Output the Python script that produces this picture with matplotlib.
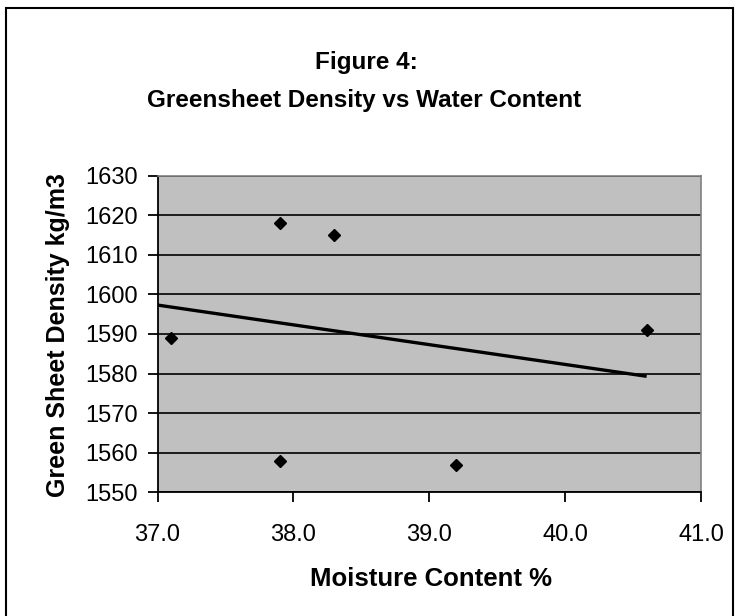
import matplotlib
matplotlib.use("Agg")
import matplotlib.pyplot as plt
from matplotlib.patches import Rectangle

# Data
moisture = [37.1, 37.9, 38.3, 37.9, 39.2, 40.6]
density = [1589, 1618, 1615, 1558, 1557, 1591]
trend_x = [37.0, 40.6]
trend_y = [1597.3, 1579.3]
x_ticks = [37.0, 38.0, 39.0, 40.0, 41.0]
y_ticks = [1550, 1560, 1570, 1580, 1590, 1600, 1610, 1620, 1630]

plt.rcParams['font.family'] = ['Liberation Sans', 'DejaVu Sans']

W, H = 737, 616
fig = plt.figure(figsize=(W / 100, H / 100), dpi=100)
fig.patch.set_facecolor('white')

# figure border
fig.add_artist(Rectangle((6 / W, -0.02), (733 - 6) / W, 1 - 8 / H + 0.02,
                         transform=fig.transFigure, fill=False,
                         edgecolor='black', linewidth=1.5))

left, right, top, bottom = 157.5, 701, 175.6, 492.3
ax = fig.add_axes([left / W, 1 - bottom / H, (right - left) / W, (bottom - top) / H])
ax.set_facecolor('#C0C0C0')

ax.set_xlim(37.0, 41.0)
ax.set_ylim(1550, 1630)
ax.set_xticks(x_ticks)
ax.set_xticklabels([f"{v:.1f}" for v in x_ticks])
ax.set_yticks(y_ticks)
ax.set_yticklabels([str(v) for v in y_ticks])

ax.yaxis.grid(True, color='black', linewidth=1.2)
ax.set_axisbelow(True)

ax.plot(trend_x, trend_y, color='black', linewidth=2.4, solid_capstyle='butt', zorder=3)
ax.plot(moisture, density, linestyle='none', marker='D', markersize=6.6,
        color='black', zorder=4)

for s in ['top', 'right']:
    ax.spines[s].set_color('#808080')
    ax.spines[s].set_linewidth(1.2)
for s in ['left', 'bottom']:
    ax.spines[s].set_color('black')
    ax.spines[s].set_linewidth(1.3)

ax.tick_params(axis='y', direction='out', length=7, width=1.3, pad=7, labelsize=17)
ax.tick_params(axis='x', direction='out', length=7, width=1.3, pad=16, labelsize=17)

fig.text(366 / W, 1 - 63 / H, "Figure 4:", ha='center', va='center',
         fontsize=17.5, fontweight='bold')
fig.text(364 / W, 1 - 100 / H, "Greensheet Density vs Water Content", ha='center',
         va='center', fontsize=17.5, fontweight='bold')
fig.text(431 / W, 1 - 579 / H, "Moisture Content %", ha='center', va='center',
         fontsize=18.5, fontweight='bold')
fig.text(58 / W, 1 - 335 / H, "Green Sheet Density kg/m3", ha='center', va='center',
         rotation=90, fontsize=18, fontweight='bold')

fig.savefig("out.png", dpi=100)
